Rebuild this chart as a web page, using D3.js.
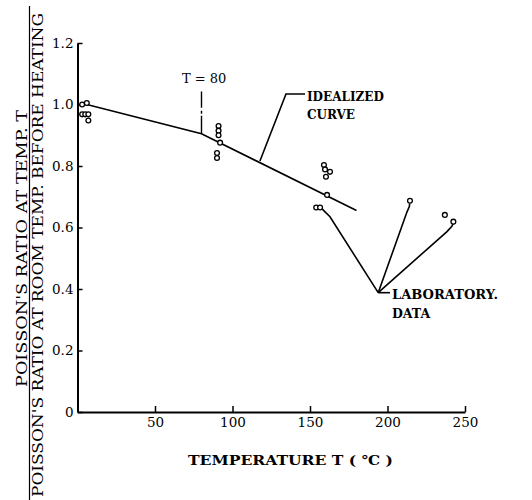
<!DOCTYPE html>
<html>
<head>
<meta charset="utf-8">
<script src="https://cdn.jsdelivr.net/npm/d3@7"></script>
<style>
  body { margin: 0; background: #fff; }
  svg { display: block; }
  text { font-family: "DejaVu Serif", "Liberation Serif", serif; fill: #000; }
</style>
</head>
<body>
<svg id="chart" width="532" height="500"></svg>
<script>
// axis ticks
const xTicks = [50, 100, 150, 200, 250];
const yTicks = [0, 0.2, 0.4, 0.6, 0.8, 1.0, 1.2];

// idealized curve (temperature, ratio)
const idealT = [6, 80, 180];
const idealR = [1.0, 0.905, 0.655];

// laboratory data points
const labT = [3, 6, 3, 5, 7, 7,
              91, 91, 91, 92, 90, 90,
              159, 159.7, 162.9, 160.3, 161, 154, 156.5,
              214.5, 237, 242.5];
const labR = [1.0, 1.005, 0.968, 0.968, 0.968, 0.948,
              0.93, 0.915, 0.9, 0.876, 0.842, 0.826,
              0.803, 0.789, 0.781, 0.765, 0.706, 0.665, 0.665,
              0.687, 0.641, 0.619];

// annotation leaders, in data units
const breakLine = [[80, 0.905], [80, 1.042]];
const idealLeader = [[117.7, 0.816], [134.5, 1.034], [146.8, 1.034]];
const labAnchor = [194, 0.388];
const labLeaders = [
  [[157.5, 0.662], [159.7, 0.651], [162.9, 0.635], labAnchor],
  [[214.3, 0.678], [214.1, 0.668], [212.6, 0.651], labAnchor],
  [[242.3, 0.612], [241.4, 0.603], [238.2, 0.586], labAnchor],
  [labAnchor, [201.6, 0.388]]
];

const svg = d3.select("#chart");
const x = d3.scaleLinear().domain([0, 250]).range([77.5, 465]);
const y = d3.scaleLinear().domain([0, 1.2]).range([412, 43]);

const line = d3.line().x(d => x(d[0])).y(d => y(d[1]));

// axes
const xAxis = svg.append("g")
    .attr("transform", `translate(0,${y(0)})`)
    .call(d3.axisBottom(x).tickValues(xTicks).tickSizeInner(-6).tickSizeOuter(0).tickPadding(5));
const yAxis = svg.append("g")
    .attr("transform", `translate(${x(0)},0)`)
    .call(d3.axisLeft(y).tickValues(yTicks).tickSizeInner(-5).tickSizeOuter(0).tickPadding(5)
        .tickFormat(d => d === 0 ? "0" : d3.format(".1f")(d)));
[xAxis, yAxis].forEach(a => {
    a.select(".domain").attr("stroke", "#000").attr("stroke-width", 2);
    a.selectAll(".tick line").attr("stroke", "#000").attr("stroke-width", 1.5);
    a.selectAll(".tick text").style("font-family", "DejaVu Serif").style("font-size", "13.5px").attr("fill", "#000");
});
yAxis.selectAll(".tick text").attr("x", -4);

// idealized curve
svg.append("path")
    .attr("d", line(idealT.map((t, i) => [t, idealR[i]])))
    .attr("fill", "none").attr("stroke", "#000").attr("stroke-width", 1.6);

svg.append("path")
    .attr("d", line(breakLine))
    .attr("fill", "none").attr("stroke", "#000").attr("stroke-width", 1.4)
    .attr("stroke-dasharray", "18,2,3,3");

svg.append("path")
    .attr("d", line(idealLeader))
    .attr("fill", "none").attr("stroke", "#000").attr("stroke-width", 1.6);

labLeaders.forEach(l => {
    svg.append("path")
        .attr("d", line(l))
        .attr("fill", "none").attr("stroke", "#000").attr("stroke-width", 1.6);
});

// data points
svg.append("g")
    .selectAll("circle")
    .data(labT.map((t, i) => [t, labR[i]]))
    .join("circle")
    .attr("cx", d => x(d[0]))
    .attr("cy", d => y(d[1]))
    .attr("r", 2.4)
    .attr("fill", "#fff")
    .attr("stroke", "#000")
    .attr("stroke-width", 1.3);

// annotations
svg.append("text").attr("x", 182).attr("y", 83).style("font-size", "13px").text("T = 80");
svg.append("text").attr("x", 307).attr("y", 101).style("font-size", "12px").style("font-weight", "bold").text("IDEALIZED");
svg.append("text").attr("x", 307).attr("y", 119).style("font-size", "12px").style("font-weight", "bold").text("CURVE");
svg.append("text").attr("x", 392).attr("y", 299).style("font-size", "12.5px").style("font-weight", "bold")
    .attr("textLength", 106).attr("lengthAdjust", "spacingAndGlyphs").text("LABORATORY.");
svg.append("text").attr("x", 392).attr("y", 318).style("font-size", "12.5px").style("font-weight", "bold").text("DATA");

// x title
svg.append("text")
    .attr("x", 188).attr("y", 465)
    .attr("textLength", 205).attr("lengthAdjust", "spacingAndGlyphs")
    .style("font-size", "13.5px").style("font-weight", "bold")
    .text("TEMPERATURE T ( \u2103 )");

// y title as a fraction
svg.append("text")
    .attr("transform", "translate(27,387) rotate(-90)")
    .attr("textLength", 277).attr("lengthAdjust", "spacingAndGlyphs")
    .style("font-size", "15px")
    .text("POISSON'S RATIO AT TEMP. T");
svg.append("line")
    .attr("x1", 29.5).attr("x2", 29.5).attr("y1", 6).attr("y2", 500)
    .attr("stroke", "#000").attr("stroke-width", 1.2);
svg.append("text")
    .attr("transform", "translate(43,497) rotate(-90)")
    .attr("textLength", 484).attr("lengthAdjust", "spacingAndGlyphs")
    .style("font-size", "14px")
    .text("POISSON'S RATIO AT ROOM TEMP. BEFORE HEATING");
</script>
</body>
</html>
